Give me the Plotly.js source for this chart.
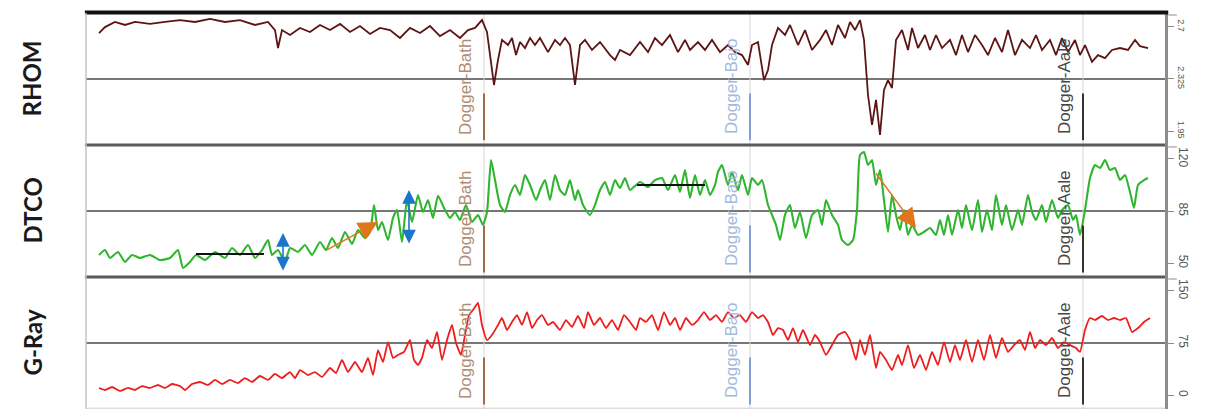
<!DOCTYPE html>
<html>
<head>
<meta charset="utf-8">
<script src="https://cdn.plot.ly/plotly-3.0.1.min.js"></script>
<style>
html,body{margin:0;padding:0;background:#fff;}
#chart{width:1216px;height:409px;}
</style>
</head>
<body>
<div id="chart"></div>
<script>
// ---------- DATA ----------
const trackNames = ['RHOM', 'DTCO', 'G-Ray'];
const rhomRange = [1.95, 2.7];
const dtcoRange = [50, 120];
const grRange = [0, 150];
const rhomTickText = ['1.95', '2.325', '2.7'];
const dtcoTickText = ['50', '85', '120'];
const grTickText = ['0', '75', '150'];

const markerNames = ['Dogger-Bath', 'Dogger-Bajo', 'Dogger-Aale'];
const markerDepths = [398, 664, 997];

const rhomDepth = [13,19,29,39,49,64,79,94,109,124,139,154,169,182,189,192,196,204,214,224,234,244,254,264,274,284,294,304,314,324,334,344,354,364,374,382,389,396,401,404,408,412,416,422,426,430,434,439,444,449,454,462,469,474,479,484,489,494,499,506,514,524,529,534,544,554,562,569,576,584,592,599,604,612,619,626,634,642,649,656,662,666,672,678,682,686,692,699,704,712,719,726,734,740,746,752,759,764,769,774,778,782,786,790,794,798,802,806,810,816,822,826,832,839,844,850,856,864,870,876,882,889,896,902,909,916,922,929,936,944,950,956,964,970,976,982,989,994,999,1006,1012,1019,1026,1034,1042,1049,1054,1062];
const rhom = [2.586,2.620,2.649,2.632,2.649,2.638,2.649,2.660,2.649,2.666,2.649,2.660,2.632,2.649,2.603,2.501,2.603,2.575,2.615,2.592,2.632,2.603,2.638,2.592,2.626,2.581,2.615,2.603,2.558,2.615,2.586,2.626,2.569,2.603,2.558,2.603,2.615,2.660,2.592,2.461,2.291,2.433,2.547,2.518,2.558,2.461,2.535,2.501,2.558,2.518,2.558,2.478,2.547,2.518,2.558,2.518,2.291,2.518,2.547,2.490,2.535,2.461,2.433,2.490,2.461,2.535,2.478,2.558,2.518,2.575,2.478,2.547,2.490,2.535,2.490,2.547,2.478,2.518,2.478,2.461,2.405,2.518,2.535,2.319,2.376,2.518,2.615,2.575,2.632,2.518,2.603,2.490,2.547,2.603,2.518,2.632,2.558,2.649,2.603,2.660,2.547,2.234,2.064,2.206,2.007,2.263,2.319,2.274,2.547,2.603,2.490,2.615,2.501,2.575,2.490,2.575,2.501,2.547,2.461,2.575,2.478,2.575,2.518,2.461,2.558,2.478,2.603,2.461,2.547,2.501,2.575,2.490,2.547,2.461,2.558,2.478,2.547,2.461,2.518,2.422,2.461,2.444,2.490,2.501,2.490,2.547,2.512,2.501];

const dtcoDepth = [13,19,24,32,39,46,54,64,74,84,92,97,104,110,119,129,139,146,154,162,169,176,182,186,192,199,204,212,219,226,234,240,246,252,259,266,272,279,284,288,292,296,302,307,311,316,321,326,332,337,342,347,352,358,364,369,374,380,386,392,397,401,405,409,414,419,424,429,434,439,444,450,454,459,464,469,474,479,484,489,492,497,504,509,514,519,524,529,534,539,544,554,562,569,576,582,589,594,599,604,609,614,619,624,629,632,636,642,646,652,656,662,666,672,676,682,686,690,694,699,704,709,714,720,726,732,736,740,746,752,756,762,767,771,774,778,782,786,790,794,798,802,806,810,814,818,822,826,832,838,844,850,854,858,862,866,872,876,880,886,892,896,901,906,910,916,920,926,932,936,942,946,950,956,960,966,972,976,982,987,990,994,999,1004,1009,1014,1019,1024,1029,1034,1039,1044,1048,1052,1058,1062];
const dtco = [61.7,64.3,60.1,63.3,58.0,61.7,60.1,61.7,59.0,60.1,64.3,54.8,58.0,61.7,59.0,63.3,60.1,65.4,61.7,67.0,60.1,64.3,69.6,61.7,64.3,58.0,65.4,63.3,67.0,61.7,68.6,64.3,70.7,65.4,73.9,67.5,74.9,70.7,73.9,88.2,74.9,79.2,69.6,81.3,85.5,68.6,90.8,79.2,93.5,84.5,90.8,81.3,93.0,86.6,81.3,84.5,80.2,88.2,79.2,82.9,77.6,84.5,112.0,101.4,88.2,84.5,93.5,98.8,93.5,104.1,98.8,90.8,96.1,101.4,90.8,104.1,96.1,93.5,101.4,90.8,96.1,88.2,82.9,88.2,96.1,100.4,93.5,101.4,97.2,102.5,96.1,100.4,97.7,101.4,102.5,96.1,104.1,95.1,106.7,91.9,104.1,93.5,101.4,93.5,98.8,105.7,109.4,98.8,105.7,96.1,104.1,93.5,102.5,98.8,101.4,88.2,82.9,77.6,69.6,82.9,88.2,76.0,84.5,70.7,82.9,85.5,77.6,90.8,82.9,77.6,69.6,67.0,69.6,85.5,114.7,116.3,109.4,112.0,98.8,106.7,90.8,73.9,93.5,82.9,74.9,85.5,72.3,77.6,72.3,73.9,76.0,72.3,80.2,72.3,82.9,72.3,85.5,76.0,88.2,74.9,90.8,73.9,85.5,74.9,93.5,77.6,88.2,74.9,85.5,77.6,93.5,84.5,80.2,88.2,79.2,90.8,81.3,85.5,88.2,80.2,82.9,72.3,85.5,102.5,109.4,107.8,112.0,106.7,107.8,101.4,104.1,95.1,86.6,98.8,101.4,102.5];

const grDepth = [13,19,26,34,42,49,56,64,72,79,86,94,99,106,114,122,129,136,144,152,159,166,174,182,189,196,204,209,214,222,229,236,244,250,256,262,269,276,282,287,292,297,302,307,312,318,324,328,332,336,341,346,351,356,361,366,370,375,379,383,387,392,396,401,406,412,416,421,426,431,436,441,446,451,456,462,467,474,480,486,492,498,502,508,514,520,526,532,538,544,550,554,560,566,572,578,584,589,594,600,606,612,618,624,630,636,642,648,654,660,666,672,677,682,687,692,697,702,707,712,717,724,729,734,740,746,752,759,764,770,774,779,784,790,794,800,806,812,816,822,828,834,840,846,852,858,864,869,874,880,886,892,898,904,910,916,922,928,934,939,944,949,954,960,966,972,978,984,990,994,999,1004,1009,1016,1022,1028,1034,1040,1046,1052,1058,1064];
const gr = [23.9,21.6,25.0,20.5,23.9,21.6,26.1,23.9,27.3,23.9,28.4,26.1,21.6,28.4,30.7,27.3,33.0,28.4,33.0,29.5,35.2,30.7,37.5,33.0,39.8,35.2,42.0,35.2,44.3,38.6,42.0,36.4,46.6,40.9,55.7,42.0,53.4,42.0,58.0,38.6,67.0,53.4,76.1,58.0,61.4,64.8,78.4,55.7,50.0,58.0,78.4,69.3,87.5,55.7,78.4,95.5,75.1,61.4,84.1,106.8,112.5,120.5,95.5,78.4,84.1,95.5,103.4,89.8,98.9,106.8,95.5,110.2,92.0,101.1,106.8,95.5,98.9,89.8,101.1,93.2,105.7,92.0,110.2,95.5,103.4,92.0,101.1,89.8,106.8,98.9,89.8,103.4,98.9,106.8,89.8,110.2,95.5,103.4,89.8,103.4,95.5,101.1,110.2,101.1,106.8,98.9,110.2,103.4,106.8,98.9,110.2,103.4,106.8,98.9,84.1,92.0,89.8,78.4,92.0,76.1,89.8,72.7,84.1,76.1,61.4,72.7,84.1,87.5,78.4,55.7,78.4,61.4,84.1,46.6,65.0,55.7,44.3,61.4,50.0,72.7,46.6,61.4,44.3,64.8,50.0,76.1,53.4,72.7,55.7,78.4,53.4,78.4,55.7,84.1,58.0,80.7,64.8,72.7,78.4,67.0,87.5,69.3,78.4,72.7,80.7,69.3,76.1,72.7,69.3,64.8,89.8,103.4,101.1,105.7,101.1,103.4,101.1,103.4,87.5,92.0,98.9,103.4];

// interpretation marks on the DTCO track (depth, DTCO value)
const baselineA = {depth: [110, 178], dtco: [62.2, 62.2]};
const baselineB = {depth: [551, 619], dtco: [98.8, 98.8]};
const spreadA = {depth: 197, dtco: [52.7, 73.3]};
const spreadB = {depth: 323, dtco: [67.0, 96.1]};
const trendUp = {depth: [239, 292], dtco: [63.8, 79.2]};
const trendDown = {depth: [789, 830], dtco: [105.7, 76.0]};

// ---------- STYLE ----------
const markerLineColors = ['#a2694a', '#7f9fd6', '#333333'];
const markerTextColors = ['#b08c74', '#a3b9de', '#474747'];
const doms = [[0.6455, 0.9682], [0.3227, 0.6455], [0, 0.3227]];
const yrefs = ['y', 'y2', 'y3'];

function tickInfo(range, text) {
  const span = range[1] - range[0];
  return {
    tickvals: [range[0] + 0.105 * span, (range[0] + range[1]) / 2, range[1] - 0.105 * span],
    ticktext: text
  };
}

const traces = [
  {x: rhomDepth, y: rhom, xaxis: 'x', yaxis: 'y', mode: 'lines',
   line: {color: '#5e1414', width: 1.8}},
  {x: dtcoDepth, y: dtco, xaxis: 'x', yaxis: 'y2', mode: 'lines',
   line: {color: '#2fb52f', width: 2.1, shape: 'spline', smoothing: 0.5}},
  {x: grDepth, y: gr, xaxis: 'x', yaxis: 'y3', mode: 'lines',
   line: {color: '#ee1d1d', width: 1.8, shape: 'spline', smoothing: 0.4}},
  {x: baselineA.depth, y: baselineA.dtco, xaxis: 'x', yaxis: 'y2', mode: 'lines',
   line: {color: '#111', width: 2}},
  {x: baselineB.depth, y: baselineB.dtco, xaxis: 'x', yaxis: 'y2', mode: 'lines',
   line: {color: '#111', width: 2}}
];

function yax(range, ticks, dom, fs) {
  const t = tickInfo(range, ticks);
  return {
    domain: dom, range: range, side: 'right', anchor: 'x',
    showgrid: false, zeroline: false,
    showline: true, linecolor: '#8c8c8c', linewidth: 3,
    ticks: 'outside', ticklen: 6, tickcolor: '#8c8c8c', tickwidth: 1,
    tickvals: t.tickvals, ticktext: t.ticktext, tickangle: 90,
    tickfont: {family: 'Liberation Sans, Arial, sans-serif', size: fs, color: '#555'},
    fixedrange: true
  };
}

const shapes = [];
const annotations = [];

// panel frame lines
shapes.push({type: 'line', xref: 'paper', yref: 'paper', x0: -0.001, x1: 1.003, y0: 0.9695, y1: 0.9695,
  line: {color: '#111', width: 4}});
[0.6455, 0.3227].forEach(function (yy) {
  shapes.push({type: 'line', xref: 'paper', yref: 'paper', x0: -0.001, x1: 1.0, y0: yy, y1: yy,
    line: {color: '#5a5a5a', width: 3}});
});
shapes.push({type: 'line', xref: 'paper', yref: 'paper', x0: 0, x1: 0, y0: 0, y1: 0.9682,
  line: {color: '#c4c4c4', width: 1.5}});
shapes.push({type: 'line', xref: 'paper', yref: 'paper', x0: 0, x1: 1, y0: 0.002, y1: 0.002,
  line: {color: '#cfcfcf', width: 1}});

yrefs.forEach(function (yr, i) {
  shapes.push({type: 'line', xref: 'paper', yref: yr + ' domain', x0: 0, x1: 1, y0: 0.5, y1: 0.5,
    line: {color: '#767676', width: 2}, layer: 'below'});
  shapes.push({type: 'line', xref: 'paper', yref: yr + ' domain', x0: 1.003, x1: 1.011, y0: 0.985, y1: 0.985,
    line: {color: '#8c8c8c', width: 1}});
  annotations.push({xref: 'paper', yref: yr + ' domain', x: -0.0505, y: 0.5,
    text: '<b>' + trackNames[i] + '</b>', textangle: -90, showarrow: false,
    xanchor: 'center', yanchor: 'middle',
    font: {family: 'Lato, Open Sans, sans-serif', size: 24, color: '#1a1a1a'}});
  markerNames.forEach(function (nm, k) {
    shapes.push({type: 'line', xref: 'x', yref: yr + ' domain', x0: markerDepths[k], x1: markerDepths[k],
      y0: 0, y1: 1, line: {color: '#d6d6d6', width: 1}, layer: 'below'});
    shapes.push({type: 'line', xref: 'x', yref: yr + ' domain', x0: markerDepths[k], x1: markerDepths[k],
      y0: 0.035, y1: 0.39, line: {color: markerLineColors[k], width: 2}});
    annotations.push({xref: 'x', yref: yr + ' domain', x: markerDepths[k], xshift: -18, y: 0.44,
      text: nm, textangle: -90, showarrow: false, xanchor: 'center', yanchor: 'middle',
      font: {family: 'Liberation Sans, Arial, sans-serif', size: 17, color: markerTextColors[k]}});
  });
});

[spreadA, spreadB].forEach(function (s) {
  annotations.push({xref: 'x', yref: 'y2', axref: 'x', ayref: 'y2',
    x: s.depth, y: s.dtco[1], ax: s.depth, ay: s.dtco[0], text: '',
    showarrow: true, arrowside: 'end+start', arrowhead: 2, arrowsize: 1.7, arrowwidth: 1.6,
    arrowcolor: '#1b75c9', standoff: 0, startstandoff: 0});
});
[trendUp, trendDown].forEach(function (s) {
  annotations.push({xref: 'x', yref: 'y2', axref: 'x', ayref: 'y2',
    x: s.depth[1], y: s.dtco[1], ax: s.depth[0], ay: s.dtco[0], text: '',
    showarrow: true, arrowhead: 2, arrowsize: 2.6, arrowwidth: 1.5,
    arrowcolor: '#e0761c', standoff: 0});
});

const layout = {
  width: 1216, height: 409,
  margin: {l: 86, r: 51, t: 0, b: 0, pad: 0},
  paper_bgcolor: '#ffffff', plot_bgcolor: '#ffffff',
  showlegend: false,
  xaxis: {range: [0, 1079], visible: false, fixedrange: true},
  yaxis: yax(rhomRange, rhomTickText, doms[0], 9),
  yaxis2: yax(dtcoRange, dtcoTickText, doms[1], 12),
  yaxis3: yax(grRange, grTickText, doms[2], 12),
  shapes: shapes,
  annotations: annotations
};

Plotly.newPlot('chart', traces, layout, {staticPlot: true, displayModeBar: false});
</script>
</body>
</html>
